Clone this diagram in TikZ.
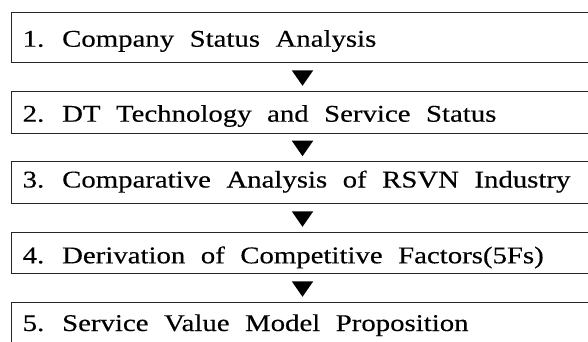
\documentclass[tikz,border=0pt]{standalone}
\usepackage{fontspec}
\setmainfont{Liberation Serif}[FakeStretch=1.2, WordSpace=2.15, FakeBold=0.3]
\usetikzlibrary{calc}

\begin{document}
\begin{tikzpicture}[x=1pt, y=1pt,
  stepbox/.style={draw=black!85, line width=1pt, rectangle, anchor=north west,
    minimum width=620pt, inner sep=0pt},
  steplabel/.style={anchor=base west, inner sep=0pt,
    font=\fontsize{24}{28}\selectfont},
  downtip/.style={fill=black}]
  \useasboundingbox (0,0) rectangle (588,341);
  \clip (0,0) rectangle (588,341);

  % process steps (frames)
  \node[stepbox, minimum height=50pt]   (s1) at (11,328.7) {};
  \node[stepbox, minimum height=42pt]   (s2) at (11,250.3) {};
  \node[stepbox, minimum height=42.3pt] (s3) at (11,180.0) {};
  \node[stepbox, minimum height=41.6pt] (s4) at (11,109.3) {};
  \node[stepbox, minimum height=42pt]   (s5) at (11,39.3)  {};

  % step captions
  \node[steplabel] (t1) at (22.5,294.3) {1. Company Status Analysis};
  \node[steplabel] (t2) at (22.5,219.3) {2. DT Technology and Service Status};
  \node[steplabel] (t3) at (22.5,153.5) {3. Comparative Analysis of RSVN Industry};
  \node[steplabel] (t4) at (22.5,77.7)  {4. Derivation of Competitive Factors(5Fs)};
  \node[steplabel] (t5) at (22.5,10.0)  {5. Service Value Model Proposition};

  % down-pointing markers between consecutive steps
  \foreach \a/\b in {s1/s2, s2/s3, s3/s4, s4/s5} {
    \coordinate (tip-\a) at ($(\a.south west)+(291.5,-22.5)$);
    \fill[downtip] (tip-\a) -- ++(-10.75,15.5) -- ++(21.5,0) -- cycle;
  }
\end{tikzpicture}
\end{document}
